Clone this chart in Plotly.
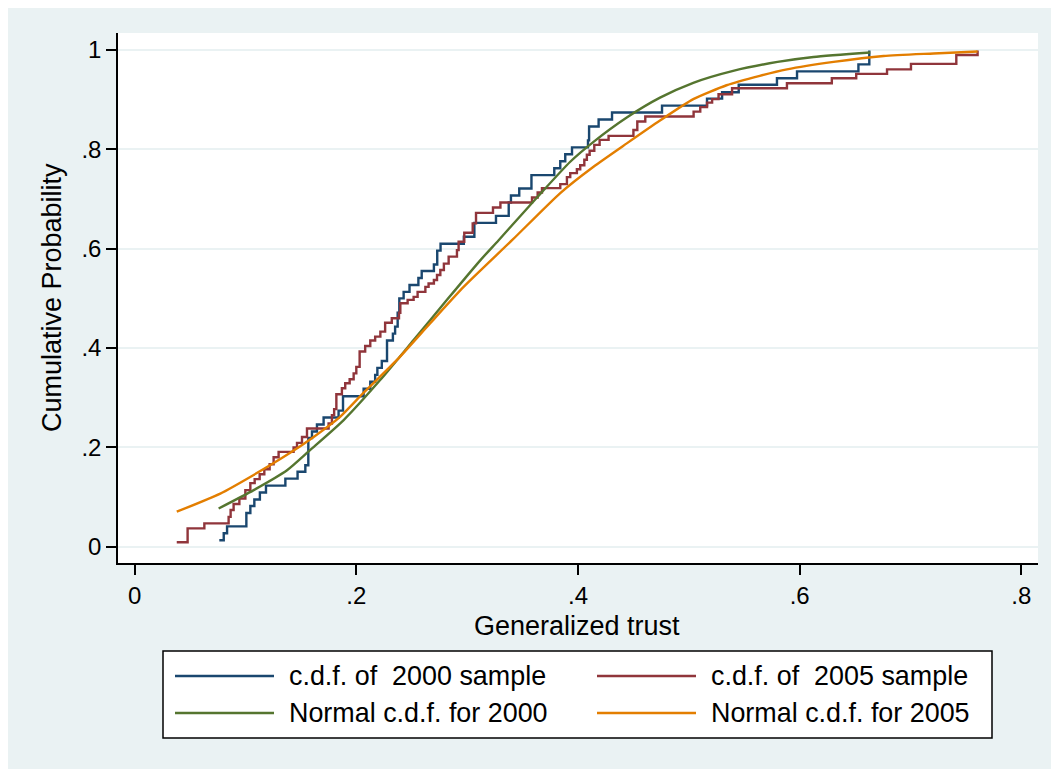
import plotly.graph_objects as go

# ---------------- data ----------------
series_names = ["c.d.f. of  2000 sample", "c.d.f. of  2005 sample",
                "Normal c.d.f. for 2000", "Normal c.d.f. for 2005"]

ecdf2000_x = [0.0764, 0.0804, 0.0834, 0.1008, 0.1044, 0.108, 0.113, 0.1185, 0.136, 0.147,
              0.154, 0.1567, 0.160, 0.1645, 0.1705, 0.184, 0.188, 0.2066, 0.2126, 0.217,
              0.219, 0.223, 0.2277, 0.233, 0.235, 0.2373, 0.2388, 0.2427, 0.248, 0.256,
              0.259, 0.27, 0.273, 0.276, 0.297, 0.3065, 0.326, 0.3375, 0.3395, 0.347,
              0.358, 0.3786, 0.384, 0.3885, 0.3946, 0.409, 0.41, 0.4186, 0.4307, 0.4758,
              0.5164, 0.53, 0.545, 0.5795, 0.5976, 0.653, 0.6628]
ecdf2000_y = [0.013, 0.027, 0.041, 0.068, 0.082, 0.095, 0.109, 0.123, 0.137, 0.151,
              0.164, 0.219, 0.232, 0.246, 0.260, 0.274, 0.303, 0.318, 0.332, 0.346,
              0.360, 0.374, 0.415, 0.429, 0.443, 0.471, 0.500, 0.513, 0.527, 0.541,
              0.555, 0.568, 0.596, 0.610, 0.624, 0.652, 0.666, 0.693, 0.707, 0.721,
              0.748, 0.762, 0.776, 0.790, 0.804, 0.818, 0.846, 0.860, 0.874, 0.888,
              0.902, 0.915, 0.930, 0.943, 0.957, 0.971, 0.999]

ecdf2005_x = [0.038, 0.0478, 0.0629, 0.0848, 0.0866, 0.0893, 0.0945, 0.0999, 0.1044, 0.1083,
              0.1128, 0.117, 0.1218, 0.1254, 0.1299, 0.1434, 0.1465, 0.151, 0.1555, 0.175,
              0.178, 0.180, 0.182, 0.187, 0.19, 0.194, 0.1976, 0.2, 0.203, 0.208,
              0.2126, 0.217, 0.2217, 0.226, 0.232, 0.2385, 0.2397, 0.2463, 0.2517, 0.2553,
              0.2623, 0.2652, 0.27, 0.2728, 0.2758, 0.279, 0.2833, 0.2908, 0.2923, 0.2974,
              0.305, 0.308, 0.3233, 0.33, 0.3585, 0.3636, 0.3675, 0.384, 0.39, 0.393,
              0.399, 0.402, 0.4057, 0.408, 0.4105, 0.4147, 0.4195, 0.4276, 0.45, 0.4535,
              0.4607, 0.5043, 0.5103, 0.5164, 0.521, 0.5268, 0.539, 0.5885, 0.629, 0.651,
              0.6788, 0.7004, 0.7413, 0.7605]
ecdf2005_y = [0.009, 0.037, 0.047, 0.060, 0.074, 0.086, 0.097, 0.114, 0.128, 0.136,
              0.146, 0.156, 0.166, 0.180, 0.191, 0.200, 0.209, 0.221, 0.238, 0.248,
              0.265, 0.277, 0.307, 0.319, 0.329, 0.337, 0.349, 0.362, 0.393, 0.404,
              0.415, 0.423, 0.433, 0.451, 0.460, 0.471, 0.490, 0.497, 0.503, 0.513,
              0.523, 0.530, 0.537, 0.547, 0.557, 0.570, 0.584, 0.597, 0.614, 0.632,
              0.651, 0.672, 0.683, 0.693, 0.703, 0.713, 0.722, 0.730, 0.744, 0.752,
              0.760, 0.768, 0.779, 0.789, 0.797, 0.809, 0.819, 0.827, 0.839, 0.856,
              0.866, 0.876, 0.885, 0.894, 0.901, 0.911, 0.923, 0.933, 0.943, 0.952,
              0.961, 0.972, 0.990, 0.999]

normal2000_x = [0.0758, 0.1074, 0.1375, 0.1585, 0.1886, 0.2217, 0.2517, 0.2818, 0.312, 0.3284,
                0.363, 0.393, 0.414, 0.444, 0.474, 0.504, 0.540, 0.58, 0.6125, 0.6637]
normal2000_y = [0.077, 0.114, 0.154, 0.195, 0.255, 0.336, 0.416, 0.497, 0.577, 0.617,
                0.703, 0.775, 0.815, 0.864, 0.904, 0.934, 0.958, 0.976, 0.986, 0.995]

normal2005_x = [0.038, 0.0773, 0.107, 0.1375, 0.1615, 0.1856, 0.2066, 0.2367, 0.2667, 0.2968,
                0.3405, 0.384, 0.414, 0.444, 0.474, 0.504, 0.534, 0.564, 0.5885, 0.6306,
                0.6757, 0.7208, 0.7605]
normal2005_y = [0.0705, 0.107, 0.144, 0.185, 0.221, 0.262, 0.310, 0.376, 0.450, 0.523,
                0.617, 0.712, 0.765, 0.812, 0.858, 0.901, 0.929, 0.948, 0.961, 0.976,
                0.988, 0.993, 0.997]

x_tickvals = [0, 0.2, 0.4, 0.6, 0.8]
x_ticktext = ["0", ".2", ".4", ".6", ".8"]
y_tickvals = [0, 0.2, 0.4, 0.6, 0.8, 1]
y_ticktext = ["0", ".2", ".4", ".6", ".8", "1"]

x_title = "Generalized trust"
y_title = "Cumulative Probability"

colors = ["#1a476f", "#90353b", "#55752f", "#e37e00"]

# ---------------- figure geometry ----------------
OFF = 8                      # page body margin (screen -> figure coordinates)
W, H = 1059, 769
ML, MT = 118 - OFF, 33 - OFF
MR = W - (1038 - OFF)
MB = H - (563 - OFF)
PW, PH = W - ML - MR, H - MT - MB
BG = "#eaf2f3"
FONT = "Liberation Sans, Arial, Helvetica, sans-serif"


def px(x):
    """screen x (pixels) -> paper coordinate"""
    return (x - OFF - ML) / PW


def py(y):
    """screen y (pixels) -> paper coordinate"""
    return (H - MB - (y - OFF)) / PH


fig = go.Figure()
series = [(ecdf2000_x, ecdf2000_y, "hv"), (ecdf2005_x, ecdf2005_y, "hv"),
          (normal2000_x, normal2000_y, "spline"), (normal2005_x, normal2005_y, "spline")]
for (xs, ys, shape), name, c in zip(series, series_names, colors):
    line = dict(color=c, width=2.4, shape=shape)
    if shape == "spline":
        line["smoothing"] = 0.6
    fig.add_trace(go.Scatter(x=xs, y=ys, mode="lines", name=name, line=line,
                             showlegend=False))

shapes = []
annotations = []

# legend box
shapes.append(dict(type="rect", xref="paper", yref="paper", x0=px(163), x1=px(992),
                   y0=py(738), y1=py(651), fillcolor="white",
                   line=dict(color="black", width=1.5)))
legend_pos = [(175, 676), (597, 676), (175, 713), (597, 713)]
for (lx, ly), name, c in zip(legend_pos, series_names, colors):
    shapes.append(dict(type="line", xref="paper", yref="paper", x0=px(lx), x1=px(lx + 99),
                       y0=py(ly), y1=py(ly), line=dict(color=c, width=2.4)))
    annotations.append(dict(xref="paper", yref="paper", x=px(lx + 112), y=py(ly),
                            xanchor="left", yanchor="middle", showarrow=False,
                            text=name.replace("  ", " \u00a0"),
                            font=dict(family=FONT, size=26.9, color="black")))

# axis titles
annotations.append(dict(xref="paper", yref="paper", x=px(577), y=py(626), xanchor="center",
                        yanchor="middle", showarrow=False, text=x_title,
                        font=dict(family=FONT, size=27, color="black")))
annotations.append(dict(xref="paper", yref="paper", x=px(52), y=py(298), xanchor="center",
                        yanchor="middle", showarrow=False, text=y_title, textangle=-90,
                        font=dict(family=FONT, size=27, color="black")))

fig.update_layout(
    width=W, height=H, autosize=False,
    margin=dict(l=ML, r=MR, t=MT, b=MB, pad=0),
    paper_bgcolor=BG, plot_bgcolor="white",
    font=dict(family=FONT, size=24, color="black"),
    shapes=shapes, annotations=annotations,
    showlegend=False,
    xaxis=dict(range=[-0.015, 0.815], tickvals=x_tickvals, ticktext=x_ticktext,
               showgrid=False, zeroline=False, showline=True, linecolor="black",
               linewidth=1.5, ticks="outside", ticklen=10, tickwidth=1.5,
               tickcolor="black", tickfont=dict(family=FONT, size=24)),
    yaxis=dict(range=[-0.0328, 1.0342], tickvals=y_tickvals, ticktext=y_ticktext,
               showgrid=True, gridcolor=BG, gridwidth=2, zeroline=False,
               showline=True, linecolor="black", linewidth=1.5, ticks="outside",
               ticklen=10, tickwidth=1.5, tickcolor="black",
               tickfont=dict(family=FONT, size=24)),
)

fig.write_html("out.html")
